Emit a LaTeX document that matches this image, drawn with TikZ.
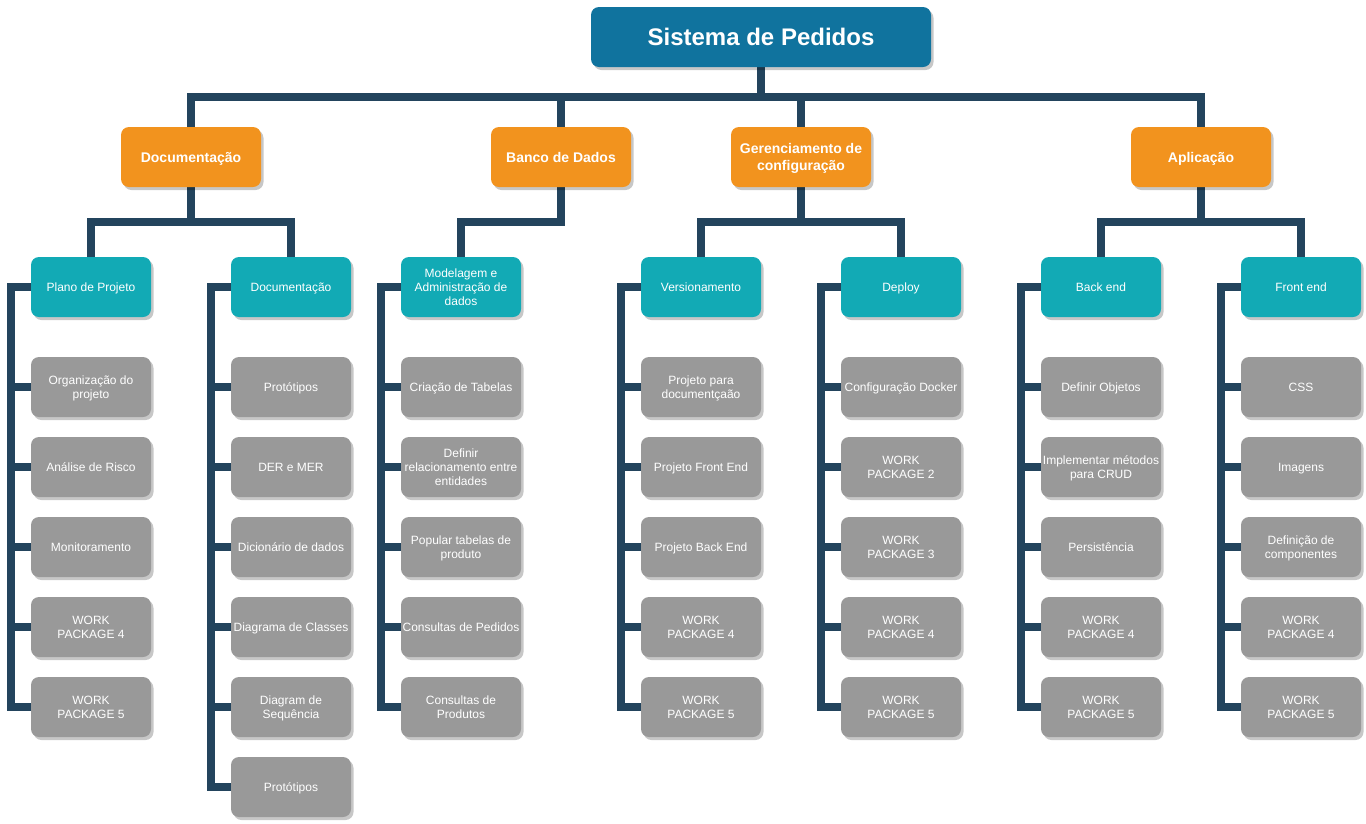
\documentclass[tikz,border=0pt]{standalone}
\usepackage{fontspec}
\setmainfont{Liberation Sans}
\usetikzlibrary{shadows,backgrounds}
\definecolor{rootc}{HTML}{10739E}
\definecolor{orangec}{HTML}{F2931E}
\definecolor{tealc}{HTML}{12AAB5}
\definecolor{grayc}{HTML}{999999}
\definecolor{linec}{HTML}{23445D}
\begin{document}
\begin{tikzpicture}[x=1pt,y=-1pt,
 box/.style={rectangle, rounded corners=8pt, text=white, align=center, inner sep=0pt, draw=none, text depth=0pt,
   drop shadow={shadow xshift=2.5pt, shadow yshift=-3pt, fill=black, opacity=0.22}},
 rootbox/.style={box, fill=rootc, minimum width=340pt, minimum height=60pt, font=\fontsize{24}{28}\selectfont\bfseries},
 lonebox/.style={box, fill=orangec, minimum width=140pt, minimum height=60pt, font=\fontsize{14}{16.5}\selectfont\bfseries},
 ltwobox/.style={box, fill=tealc, minimum width=120pt, minimum height=60pt, font=\fontsize{12}{14}\selectfont},
 lthreebox/.style={box, fill=grayc, minimum width=120pt, minimum height=60pt, font=\fontsize{12}{14}\selectfont},
 conn/.style={draw=linec, line width=7.5pt}
]
\useasboundingbox (0,0) rectangle (1366,823);
\coordinate (barA) at (0,97);
\coordinate (barB) at (0,222);

% root
\node[rootbox] (root) at (761,37) {Sistema de Pedidos};

% level 1
\node[lonebox] (o1) at (191,157) {Documentação};
\node[lonebox] (o2) at (561,157) {Banco de Dados};
\node[lonebox] (o3) at (801,157) {Gerenciamento de\\configuração};
\node[lonebox] (o4) at (1201,157) {Aplicação};

% level 2
\node[ltwobox] (t1) at (91,287) {Plano de Projeto};
\node[ltwobox] (t2) at (291,287) {Documentação};
\node[ltwobox] (t3) at (461,287) {Modelagem e\\Administração de\\dados};
\node[ltwobox] (t4) at (701,287) {Versionamento};
\node[ltwobox] (t5) at (901,287) {Deploy};
\node[ltwobox] (t6) at (1101,287) {Back end};
\node[ltwobox] (t7) at (1301,287) {Front end};

% level 3 column 1
\node[lthreebox] (c11) at (91,387) {Organização do\\projeto};
\node[lthreebox] (c12) at (91,467) {Análise de Risco};
\node[lthreebox] (c13) at (91,547) {Monitoramento};
\node[lthreebox] (c14) at (91,627) {WORK\\PACKAGE 4};
\node[lthreebox] (c15) at (91,707) {WORK\\PACKAGE 5};
% column 2
\node[lthreebox] (c21) at (291,387) {Protótipos};
\node[lthreebox] (c22) at (291,467) {DER e MER};
\node[lthreebox] (c23) at (291,547) {Dicionário de dados};
\node[lthreebox] (c24) at (291,627) {Diagrama de Classes};
\node[lthreebox] (c25) at (291,707) {Diagram de\\Sequência};
\node[lthreebox] (c26) at (291,787) {Protótipos};
% column 3
\node[lthreebox] (c31) at (461,387) {Criação de Tabelas};
\node[lthreebox] (c32) at (461,467) {Definir\\relacionamento entre\\entidades};
\node[lthreebox] (c33) at (461,547) {Popular tabelas de\\produto};
\node[lthreebox] (c34) at (461,627) {Consultas de Pedidos};
\node[lthreebox] (c35) at (461,707) {Consultas de\\Produtos};
% column 4
\node[lthreebox] (c41) at (701,387) {Projeto para\\documentçaão};
\node[lthreebox] (c42) at (701,467) {Projeto Front End};
\node[lthreebox] (c43) at (701,547) {Projeto Back End};
\node[lthreebox] (c44) at (701,627) {WORK\\PACKAGE 4};
\node[lthreebox] (c45) at (701,707) {WORK\\PACKAGE 5};
% column 5
\node[lthreebox] (c51) at (901,387) {Configuração Docker};
\node[lthreebox] (c52) at (901,467) {WORK\\PACKAGE 2};
\node[lthreebox] (c53) at (901,547) {WORK\\PACKAGE 3};
\node[lthreebox] (c54) at (901,627) {WORK\\PACKAGE 4};
\node[lthreebox] (c55) at (901,707) {WORK\\PACKAGE 5};
% column 6
\node[lthreebox] (c61) at (1101,387) {Definir Objetos};
\node[lthreebox] (c62) at (1101,467) {Implementar métodos\\para CRUD};
\node[lthreebox] (c63) at (1101,547) {Persistência};
\node[lthreebox] (c64) at (1101,627) {WORK\\PACKAGE 4};
\node[lthreebox] (c65) at (1101,707) {WORK\\PACKAGE 5};
% column 7
\node[lthreebox] (c71) at (1301,387) {CSS};
\node[lthreebox] (c72) at (1301,467) {Imagens};
\node[lthreebox] (c73) at (1301,547) {Definição de\\componentes};
\node[lthreebox] (c74) at (1301,627) {WORK\\PACKAGE 4};
\node[lthreebox] (c75) at (1301,707) {WORK\\PACKAGE 5};

\begin{pgfonlayer}{background}
 \foreach \o in {o1,o2,o3,o4}
   \draw[conn] (root.south) -- (root.south |- barA) -| (\o.north);
 \draw[conn] (o1.south) -- (o1.south |- barB) -| (t1.north);
 \draw[conn] (o1.south) -- (o1.south |- barB) -| (t2.north);
 \draw[conn] (o2.south) -- (o2.south |- barB) -| (t3.north);
 \draw[conn] (o3.south) -- (o3.south |- barB) -| (t4.north);
 \draw[conn] (o3.south) -- (o3.south |- barB) -| (t5.north);
 \draw[conn] (o4.south) -- (o4.south |- barB) -| (t6.north);
 \draw[conn] (o4.south) -- (o4.south |- barB) -| (t7.north);
 \foreach \i in {1,...,5} \draw[conn] (t1.west) -- ++(-20,0) |- (c1\i.west);
 \foreach \i in {1,...,6} \draw[conn] (t2.west) -- ++(-20,0) |- (c2\i.west);
 \foreach \i in {1,...,5} \draw[conn] (t3.west) -- ++(-20,0) |- (c3\i.west);
 \foreach \i in {1,...,5} \draw[conn] (t4.west) -- ++(-20,0) |- (c4\i.west);
 \foreach \i in {1,...,5} \draw[conn] (t5.west) -- ++(-20,0) |- (c5\i.west);
 \foreach \i in {1,...,5} \draw[conn] (t6.west) -- ++(-20,0) |- (c6\i.west);
 \foreach \i in {1,...,5} \draw[conn] (t7.west) -- ++(-20,0) |- (c7\i.west);
\end{pgfonlayer}
\end{tikzpicture}
\end{document}
